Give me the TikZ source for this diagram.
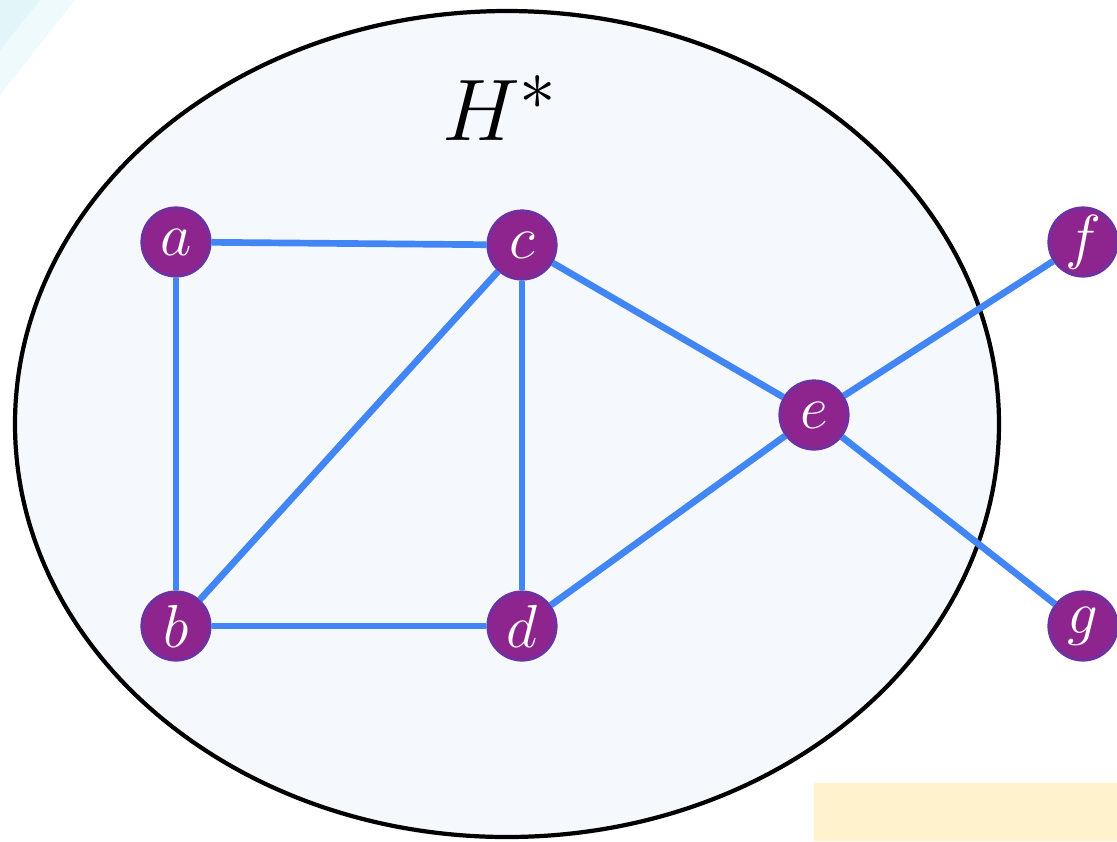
\documentclass[tikz,border=0pt]{standalone}
\definecolor{vertexfill}{RGB}{142,37,142}
\definecolor{vertexrim}{RGB}{112,48,160}
\definecolor{edgeblue}{RGB}{66,133,244}
\definecolor{blobfill}{RGB}{245,249,253}
\definecolor{notefill}{RGB}{255,242,204}
\definecolor{streak}{RGB}{200,240,248}
\tikzset{
  vertex/.style={circle,minimum size=0.68cm,inner sep=0pt,fill=vertexfill,draw=vertexrim,line width=0.9pt,text=white,font=\fontsize{18}{18}\selectfont},
  link/.style={draw=edgeblue,line width=1.9pt}
}
\begin{document}
\begin{tikzpicture}[x=0.01cm,y=-0.01cm]
\useasboundingbox (0,0) rectangle (1117,841);
\fill[white] (0,0) rectangle (1117,841);
\fill[streak,opacity=0.3] (0,0) -- (75,0) -- (0,95) -- cycle;
\fill[streak,opacity=0.3] (0,0) -- (40,0) -- (0,50) -- cycle;
\fill[notefill] (814,783) rectangle (1117,841);
\draw[fill=blobfill,line width=1.2pt] (507,424) ellipse [x radius=492,y radius=413];
\node at (500,108) {\fontsize{29}{29}\selectfont $H^*$};
\node[vertex] (a) at (176,242) {$a$};
\node[vertex] (c) at (522,245) {$c$};
\node[vertex] (b) at (176,626) {$b$};
\node[vertex] (d) at (522,626) {$d$};
\node[vertex] (e) at (814,415) {$e$};
\node[vertex] (f) at (1083,242) {$f$};
\node[vertex] (g) at (1083,626) {$g$};
\draw[link] (a) -- (c);
\draw[link] (a) -- (b);
\draw[link] (b) -- (c);
\draw[link] (b) -- (d);
\draw[link] (c) -- (d);
\draw[link] (c) -- (e);
\draw[link] (d) -- (e);
\draw[link] (e) -- (f);
\draw[link] (e) -- (g);
\end{tikzpicture}
\end{document}
